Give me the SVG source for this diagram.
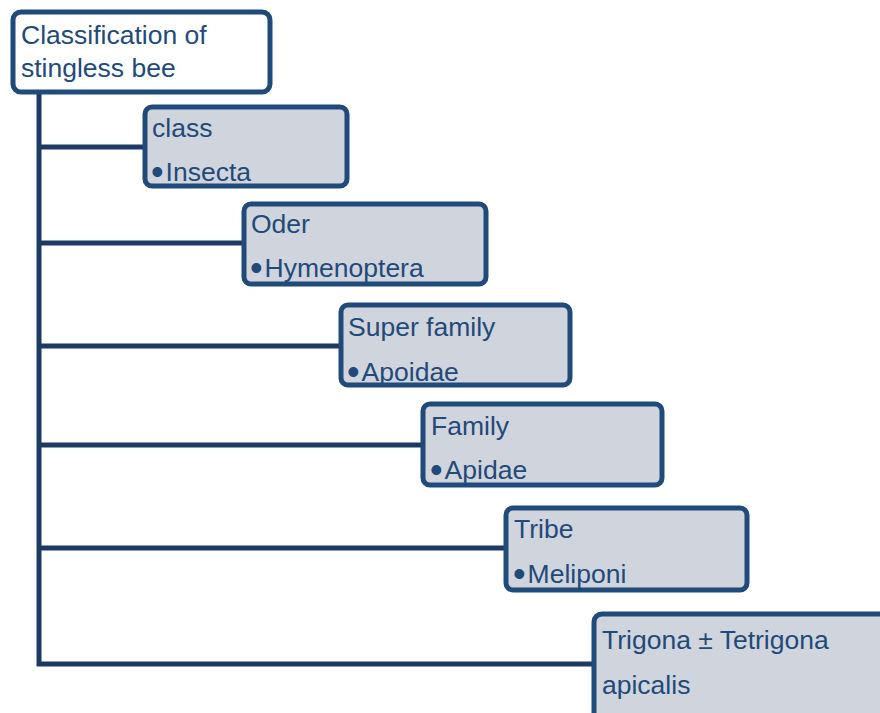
<svg xmlns="http://www.w3.org/2000/svg" width="880" height="713" viewBox="0 0 880 713">
<style>
.box{fill:#d0d4dc;stroke:#1f4a7a;stroke-width:5}
.root{fill:#ffffff;stroke:#1f4a7a;stroke-width:5}
.t{font-family:"Liberation Sans",Arial,sans-serif;font-size:26.5px;fill:#1f4a7a}
.b{font-size:36px}
.c{stroke:#1c3a63;stroke-width:5;fill:none}
</style>
<rect width="880" height="713" fill="#ffffff"/>
<g id="connectors">
<line class="c" x1="39" y1="92" x2="39" y2="666"/>
<line class="c" x1="37" y1="147" x2="145" y2="147"/>
<line class="c" x1="37" y1="243" x2="244" y2="243"/>
<line class="c" x1="37" y1="346" x2="341" y2="346"/>
<line class="c" x1="37" y1="445" x2="423" y2="445"/>
<line class="c" x1="37" y1="548" x2="506" y2="548"/>
<line class="c" x1="37" y1="664" x2="593" y2="664"/>
</g>
<g id="root">
<rect class="root" x="13" y="12" width="257" height="80" rx="8"/>
<text class="t" x="21" y="44">Classification of</text>
<text class="t" x="21" y="77">stingless bee</text>
</g>
<g id="class">
<rect class="box" x="145" y="107" width="202" height="79" rx="7"/>
<text class="t" x="152" y="137">class</text>
<text class="t" x="151" y="181"><tspan class="b" dy="3">•</tspan><tspan dx="2" dy="-3">Insecta</tspan></text>
</g>
<g id="order">
<rect class="box" x="244" y="204" width="242" height="80" rx="7"/>
<text class="t" x="251" y="233">Oder</text>
<text class="t" x="250" y="277"><tspan class="b" dy="3">•</tspan><tspan dx="2" dy="-3">Hymenoptera</tspan></text>
</g>
<g id="superfamily">
<rect class="box" x="341" y="305" width="229" height="80" rx="7"/>
<text class="t" x="348" y="336">Super family</text>
<text class="t" x="347" y="381"><tspan class="b" dy="3">•</tspan><tspan dx="2" dy="-3">Apoidae</tspan></text>
</g>
<g id="family">
<rect class="box" x="423" y="404" width="239" height="81" rx="7"/>
<text class="t" x="431" y="435">Family</text>
<text class="t" x="430" y="479"><tspan class="b" dy="3">•</tspan><tspan dx="2" dy="-3">Apidae</tspan></text>
</g>
<g id="tribe">
<rect class="box" x="506" y="508" width="241" height="82" rx="7"/>
<text class="t" x="514" y="538">Tribe</text>
<text class="t" x="513" y="583"><tspan class="b" dy="3">•</tspan><tspan dx="2" dy="-3">Meliponi</tspan></text>
</g>
<g id="genus">
<rect class="box" x="594" y="614" width="300" height="110" rx="8"/>
<text class="t" x="602" y="649">Trigona ± Tetrigona</text>
<text class="t" x="602" y="694">apicalis</text>
</g>
</svg>
